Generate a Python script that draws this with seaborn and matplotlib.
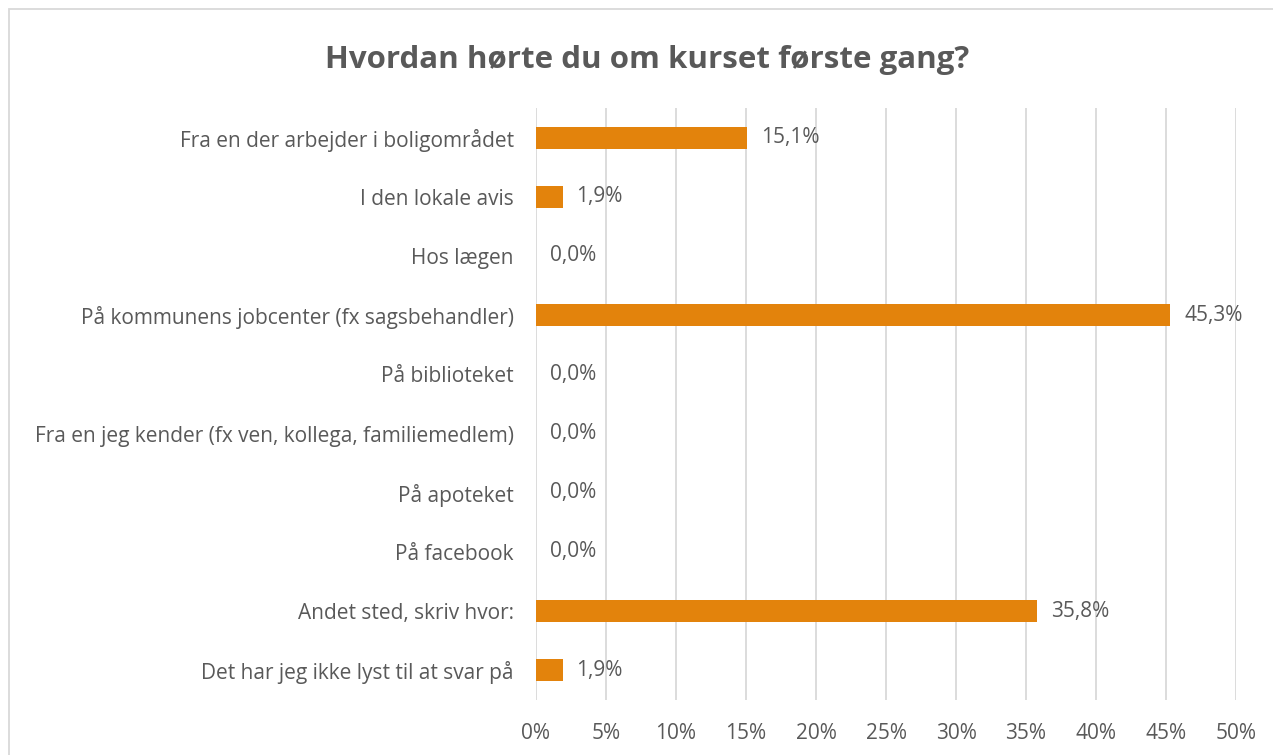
import pandas as pd
import seaborn as sns
import matplotlib.pyplot as plt
from matplotlib.patches import Rectangle

# data
categories = [
    "Fra en der arbejder i boligområdet",
    "I den lokale avis",
    "Hos lægen",
    "På kommunens jobcenter (fx sagsbehandler)",
    "På biblioteket",
    "Fra en jeg kender (fx ven, kollega, familiemedlem)",
    "På apoteket",
    "På facebook",
    "Andet sted, skriv hvor:",
    "Det har jeg ikke lyst til at svar på",
]
values = [15.1, 1.9, 0.0, 45.3, 0.0, 0.0, 0.0, 0.0, 35.8, 1.9]
ticks = [0, 5, 10, 15, 20, 25, 30, 35, 40, 45, 50]

df = pd.DataFrame({"kategori": categories, "andel": values})

sns.set_style("white")
plt.rcParams['font.family'] = ['Open Sans', 'DejaVu Sans']

text_col = "#595959"
bar_col = "#E3830C"

fig = plt.figure(figsize=(12.73, 7.55), dpi=100)
ax = fig.add_axes([0.421, 0.073, 0.550, 0.784])

sns.barplot(data=df, x="andel", y="kategori", color=bar_col, width=0.37,
            saturation=1, linewidth=0, ax=ax, zorder=3)

ax.set_xlim(0, 50)
ax.set_xticks(ticks)
ax.set_xticklabels([f"{t}%" for t in ticks])
ax.grid(axis="x", color="#D9D9D9", linewidth=1.3, zorder=0)
ax.grid(axis="y", visible=False)
for s in ax.spines.values():
    s.set_visible(False)
ax.tick_params(axis="both", length=0, labelsize=15, colors=text_col)
ax.tick_params(axis="x", pad=17)
ax.tick_params(axis="y", pad=16)
ax.set_xlabel("")
ax.set_ylabel("")

# value labels
for i, v in enumerate(values):
    ax.text(v + 1.0, i, f"{v:.1f}%".replace(".", ","), va="center", ha="left",
            fontsize=15, color=text_col)

fig.suptitle("Hvordan hørte du om kurset første gang?", x=0.508, y=0.94,
             fontsize=22.5, fontweight="bold", color=text_col)

# outer border
fig.patches.append(Rectangle((0.007, -0.01), 1.1, 0.998, transform=fig.transFigure,
                             fill=False, edgecolor="#D9D9D9", linewidth=1.3))

fig.savefig("out.png", dpi=100)
